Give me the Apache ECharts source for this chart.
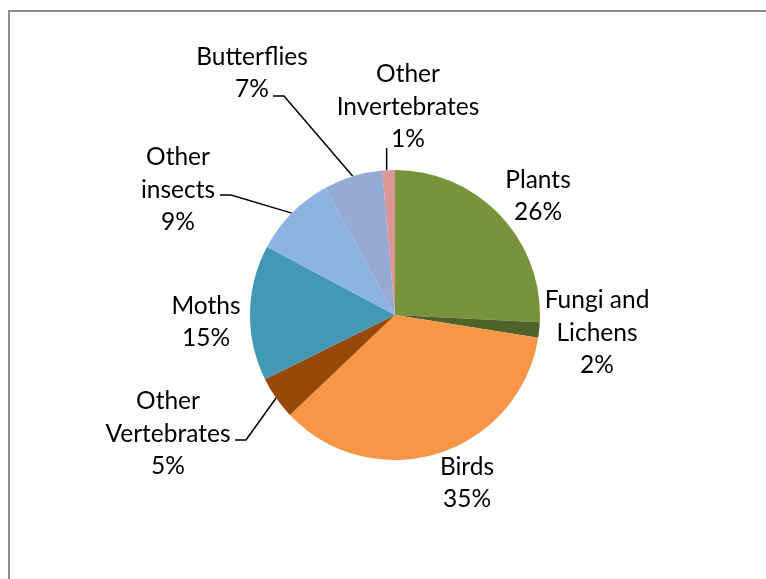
<!DOCTYPE html>
<html>
<head>
<meta charset="utf-8">
<script src="https://cdn.jsdelivr.net/npm/echarts@6/dist/echarts.min.js"></script>
<style>html,body{margin:0;padding:0;background:#fff;}#c{width:766px;height:579px;}</style>
</head>
<body>
<div id="c"></div>
<script>
var categories = ['Plants', 'Fungi and Lichens', 'Birds', 'Other Vertebrates', 'Moths', 'Other insects', 'Butterflies', 'Other Invertebrates'];
var labelNames = ['Plants', 'Fungi and\nLichens', 'Birds', 'Other\nVertebrates', 'Moths', 'Other\ninsects', 'Butterflies', 'Other\nInvertebrates'];
var values = [25.8, 1.7, 35.4, 4.8, 15.1, 9.2, 6.6, 1.4];
var colors = ['#77933c', '#4f6228', '#f79646', '#984807', '#4399b3', '#8db3e2', '#95abd4', '#d99694'];
var withLeader = [false, false, false, true, false, true, true, true];

// label block centres (layout only)
var labelPos = {
  'Plants': [538, 196],
  'Fungi and Lichens': [597, 333],
  'Birds': [467, 483],
  'Other Vertebrates': [168, 434],
  'Moths': [206, 322],
  'Other insects': [178, 190],
  'Butterflies': [252, 73],
  'Other Invertebrates': [408, 107]
};
// where the leader line meets the label text (layout only)
var leaderAnchor = {
  'Other Vertebrates': { pt: [235, 440], dir: 'h' },
  'Other insects': { pt: [220, 195], dir: 'h' },
  'Butterflies': { pt: [273, 96], dir: 'h' },
  'Other Invertebrates': { pt: [0, 148], dir: 'v' }
};

var chart = echarts.init(document.getElementById('c'));
var data = categories.map(function (n, i) {
  return {
    name: n,
    value: values[i],
    itemStyle: { color: colors[i] },
    label: { formatter: labelNames[i] + '\n' + Math.round(values[i]) + '%' },
    labelLine: { show: withLeader[i] }
  };
});

chart.setOption({
  animation: false,
  graphic: [{
    type: 'rect', silent: true, z: -1,
    shape: { x: 9, y: 11, width: 800, height: 600 },
    style: { fill: 'none', stroke: '#8c8c8c', lineWidth: 2 }
  }],
  series: [{
    type: 'pie',
    center: [395, 315],
    radius: 145,
    startAngle: 90,
    clockwise: true,
    data: data,
    label: {
      show: true,
      position: 'outside',
      fontFamily: 'Lato',
      fontSize: 24.5,
      lineHeight: 32.5,
      color: '#000',
      align: 'center'
    },
    labelLine: {
      show: false,
      length: 10,
      length2: 12,
      lineStyle: { color: '#000', width: 1.5 }
    },
    labelLayout: function (p) {
      var name = categories[p.dataIndex];
      var pos = labelPos[name];
      var out = { x: pos[0], y: pos[1], align: 'center', verticalAlign: 'middle' };
      var a = leaderAnchor[name];
      if (a && p.labelLinePoints) {
        var p0 = p.labelLinePoints[0];
        if (a.dir === 'h') {
          out.labelLinePoints = [[p0[0], p0[1]], [a.pt[0] + 11, a.pt[1]], [a.pt[0], a.pt[1]]];
        } else {
          out.labelLinePoints = [[p0[0] - 2, p0[1]], [p0[0] - 2, a.pt[1] + 2], [p0[0] - 2, a.pt[1]]];
        }
      }
      return out;
    }
  }]
});
</script>
</body>
</html>
